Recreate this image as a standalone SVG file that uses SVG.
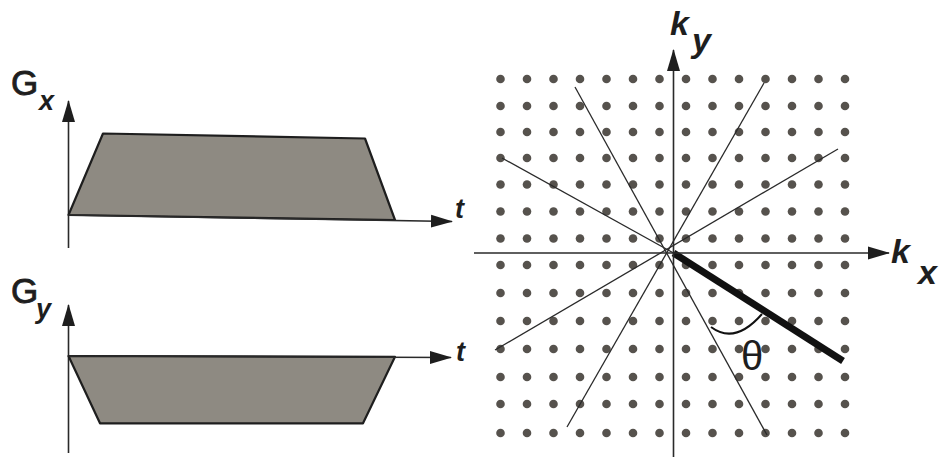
<svg xmlns="http://www.w3.org/2000/svg" width="939" height="457" viewBox="0 0 939 457">
<style>
.ax{stroke:#2a2a2a;stroke-width:1.6;fill:none}
.trap{fill:#8e8a82;stroke:#1e1e1e;stroke-width:2.2;stroke-linejoin:round}
.ray{stroke:#2a2a2a;stroke-width:1.3;fill:none}
.G{font-family:"Liberation Sans",Arial,sans-serif;font-size:35px;fill:#1e1e1e;stroke:#1e1e1e;stroke-width:0.9}
.sub{font-family:"Liberation Sans",Arial,sans-serif;font-size:27px;font-style:italic;font-weight:bold;fill:#1e1e1e}
.k{font-family:"Liberation Sans",Arial,sans-serif;font-size:34px;font-style:italic;font-weight:bold;fill:#1e1e1e}
.th{font-family:"Liberation Sans",Arial,sans-serif;font-size:40px;fill:#1e1e1e}
#kspace-grid circle{fill:#56524d}
</style>
<defs>
<marker id="ah" markerWidth="22" markerHeight="14" refX="21" refY="7" orient="auto" markerUnits="userSpaceOnUse">
<path d="M0,0.5 L22,7 L0,13.5 Z" fill="#1e1e1e"/>
</marker>
</defs>
<rect width="939" height="457" fill="#ffffff"/>

<g id="gx-plot">
<line class="ax" x1="68.5" y1="248" x2="68.5" y2="101" marker-end="url(#ah)"/>
<polygon class="trap" points="68.5,215 103,133.5 365,138.5 395,220"/>
<line class="ax" x1="68.5" y1="215" x2="452" y2="221.5" marker-end="url(#ah)"/>
<text class="G" x="11" y="95">G</text>
<text class="sub" x="39" y="110">x</text>
<text class="sub" x="455" y="218">t</text>
</g>

<g id="gy-plot">
<line class="ax" x1="68.5" y1="453" x2="68.5" y2="305" marker-end="url(#ah)"/>
<polygon class="trap" points="68.5,356 395,356.8 363,423.3 100,423.3"/>
<line class="ax" x1="68.5" y1="356" x2="451" y2="357.5" marker-end="url(#ah)"/>
<text class="G" x="11" y="303">G</text>
<text class="sub" x="36" y="318">y</text>
<text class="sub" x="456" y="361">t</text>
</g>

<g id="kspace-grid">
<g id="row0"><circle cx="500.5" cy="79" r="4.3"/><circle cx="527" cy="79" r="4.3"/><circle cx="553.5" cy="79" r="4.3"/><circle cx="580" cy="79" r="4.3"/><circle cx="606.5" cy="79" r="4.3"/><circle cx="633" cy="79" r="4.3"/><circle cx="659.5" cy="79" r="4.3"/><circle cx="686" cy="79" r="4.3"/><circle cx="712.5" cy="79" r="4.3"/><circle cx="739" cy="79" r="4.3"/><circle cx="765.5" cy="79" r="4.3"/><circle cx="792" cy="79" r="4.3"/><circle cx="818.5" cy="79" r="4.3"/><circle cx="845" cy="79" r="4.3"/></g>
<g id="row1"><circle cx="500.5" cy="106" r="4.3"/><circle cx="527" cy="106" r="4.3"/><circle cx="553.5" cy="106" r="4.3"/><circle cx="580" cy="106" r="4.3"/><circle cx="606.5" cy="106" r="4.3"/><circle cx="633" cy="106" r="4.3"/><circle cx="659.5" cy="106" r="4.3"/><circle cx="686" cy="106" r="4.3"/><circle cx="712.5" cy="106" r="4.3"/><circle cx="739" cy="106" r="4.3"/><circle cx="765.5" cy="106" r="4.3"/><circle cx="792" cy="106" r="4.3"/><circle cx="818.5" cy="106" r="4.3"/><circle cx="845" cy="106" r="4.3"/></g>
<g id="row2"><circle cx="500.5" cy="132" r="4.3"/><circle cx="527" cy="132" r="4.3"/><circle cx="553.5" cy="132" r="4.3"/><circle cx="580" cy="132" r="4.3"/><circle cx="606.5" cy="132" r="4.3"/><circle cx="633" cy="132" r="4.3"/><circle cx="659.5" cy="132" r="4.3"/><circle cx="686" cy="132" r="4.3"/><circle cx="712.5" cy="132" r="4.3"/><circle cx="739" cy="132" r="4.3"/><circle cx="765.5" cy="132" r="4.3"/><circle cx="792" cy="132" r="4.3"/><circle cx="818.5" cy="132" r="4.3"/><circle cx="845" cy="132" r="4.3"/></g>
<g id="row3"><circle cx="500.5" cy="158" r="4.3"/><circle cx="527" cy="158" r="4.3"/><circle cx="553.5" cy="158" r="4.3"/><circle cx="580" cy="158" r="4.3"/><circle cx="606.5" cy="158" r="4.3"/><circle cx="633" cy="158" r="4.3"/><circle cx="659.5" cy="158" r="4.3"/><circle cx="686" cy="158" r="4.3"/><circle cx="712.5" cy="158" r="4.3"/><circle cx="739" cy="158" r="4.3"/><circle cx="765.5" cy="158" r="4.3"/><circle cx="792" cy="158" r="4.3"/><circle cx="818.5" cy="158" r="4.3"/><circle cx="845" cy="158" r="4.3"/></g>
<g id="row4"><circle cx="500.5" cy="184.5" r="4.3"/><circle cx="527" cy="184.5" r="4.3"/><circle cx="553.5" cy="184.5" r="4.3"/><circle cx="580" cy="184.5" r="4.3"/><circle cx="606.5" cy="184.5" r="4.3"/><circle cx="633" cy="184.5" r="4.3"/><circle cx="659.5" cy="184.5" r="4.3"/><circle cx="686" cy="184.5" r="4.3"/><circle cx="712.5" cy="184.5" r="4.3"/><circle cx="739" cy="184.5" r="4.3"/><circle cx="765.5" cy="184.5" r="4.3"/><circle cx="792" cy="184.5" r="4.3"/><circle cx="818.5" cy="184.5" r="4.3"/><circle cx="845" cy="184.5" r="4.3"/></g>
<g id="row5"><circle cx="500.5" cy="211.5" r="4.3"/><circle cx="527" cy="211.5" r="4.3"/><circle cx="553.5" cy="211.5" r="4.3"/><circle cx="580" cy="211.5" r="4.3"/><circle cx="606.5" cy="211.5" r="4.3"/><circle cx="633" cy="211.5" r="4.3"/><circle cx="659.5" cy="211.5" r="4.3"/><circle cx="686" cy="211.5" r="4.3"/><circle cx="712.5" cy="211.5" r="4.3"/><circle cx="739" cy="211.5" r="4.3"/><circle cx="765.5" cy="211.5" r="4.3"/><circle cx="792" cy="211.5" r="4.3"/><circle cx="818.5" cy="211.5" r="4.3"/><circle cx="845" cy="211.5" r="4.3"/></g>
<g id="row6"><circle cx="500.5" cy="238.5" r="4.3"/><circle cx="527" cy="238.5" r="4.3"/><circle cx="553.5" cy="238.5" r="4.3"/><circle cx="580" cy="238.5" r="4.3"/><circle cx="606.5" cy="238.5" r="4.3"/><circle cx="633" cy="238.5" r="4.3"/><circle cx="659.5" cy="238.5" r="4.3"/><circle cx="686" cy="238.5" r="4.3"/><circle cx="712.5" cy="238.5" r="4.3"/><circle cx="739" cy="238.5" r="4.3"/><circle cx="765.5" cy="238.5" r="4.3"/><circle cx="792" cy="238.5" r="4.3"/><circle cx="818.5" cy="238.5" r="4.3"/><circle cx="845" cy="238.5" r="4.3"/></g>
<g id="row7"><circle cx="500.5" cy="265" r="4.3"/><circle cx="527" cy="265" r="4.3"/><circle cx="553.5" cy="265" r="4.3"/><circle cx="580" cy="265" r="4.3"/><circle cx="606.5" cy="265" r="4.3"/><circle cx="633" cy="265" r="4.3"/><circle cx="659.5" cy="265" r="4.3"/><circle cx="686" cy="265" r="4.3"/><circle cx="712.5" cy="265" r="4.3"/><circle cx="739" cy="265" r="4.3"/><circle cx="765.5" cy="265" r="4.3"/><circle cx="792" cy="265" r="4.3"/><circle cx="818.5" cy="265" r="4.3"/><circle cx="845" cy="265" r="4.3"/></g>
<g id="row8"><circle cx="500.5" cy="293" r="4.3"/><circle cx="527" cy="293" r="4.3"/><circle cx="553.5" cy="293" r="4.3"/><circle cx="580" cy="293" r="4.3"/><circle cx="606.5" cy="293" r="4.3"/><circle cx="633" cy="293" r="4.3"/><circle cx="659.5" cy="293" r="4.3"/><circle cx="686" cy="293" r="4.3"/><circle cx="712.5" cy="293" r="4.3"/><circle cx="739" cy="293" r="4.3"/><circle cx="765.5" cy="293" r="4.3"/><circle cx="792" cy="293" r="4.3"/><circle cx="818.5" cy="293" r="4.3"/><circle cx="845" cy="293" r="4.3"/></g>
<g id="row9"><circle cx="500.5" cy="321" r="4.3"/><circle cx="527" cy="321" r="4.3"/><circle cx="553.5" cy="321" r="4.3"/><circle cx="580" cy="321" r="4.3"/><circle cx="606.5" cy="321" r="4.3"/><circle cx="633" cy="321" r="4.3"/><circle cx="659.5" cy="321" r="4.3"/><circle cx="686" cy="321" r="4.3"/><circle cx="712.5" cy="321" r="4.3"/><circle cx="739" cy="321" r="4.3"/><circle cx="765.5" cy="321" r="4.3"/><circle cx="792" cy="321" r="4.3"/><circle cx="818.5" cy="321" r="4.3"/><circle cx="845" cy="321" r="4.3"/></g>
<g id="row10"><circle cx="500.5" cy="349" r="4.3"/><circle cx="527" cy="349" r="4.3"/><circle cx="553.5" cy="349" r="4.3"/><circle cx="580" cy="349" r="4.3"/><circle cx="606.5" cy="349" r="4.3"/><circle cx="633" cy="349" r="4.3"/><circle cx="659.5" cy="349" r="4.3"/><circle cx="686" cy="349" r="4.3"/><circle cx="712.5" cy="349" r="4.3"/><circle cx="739" cy="349" r="4.3"/><circle cx="765.5" cy="349" r="4.3"/><circle cx="792" cy="349" r="4.3"/><circle cx="818.5" cy="349" r="4.3"/><circle cx="845" cy="349" r="4.3"/></g>
<g id="row11"><circle cx="500.5" cy="377" r="4.3"/><circle cx="527" cy="377" r="4.3"/><circle cx="553.5" cy="377" r="4.3"/><circle cx="580" cy="377" r="4.3"/><circle cx="606.5" cy="377" r="4.3"/><circle cx="633" cy="377" r="4.3"/><circle cx="659.5" cy="377" r="4.3"/><circle cx="686" cy="377" r="4.3"/><circle cx="712.5" cy="377" r="4.3"/><circle cx="739" cy="377" r="4.3"/><circle cx="765.5" cy="377" r="4.3"/><circle cx="792" cy="377" r="4.3"/><circle cx="818.5" cy="377" r="4.3"/><circle cx="845" cy="377" r="4.3"/></g>
<g id="row12"><circle cx="500.5" cy="404" r="4.3"/><circle cx="527" cy="404" r="4.3"/><circle cx="553.5" cy="404" r="4.3"/><circle cx="580" cy="404" r="4.3"/><circle cx="606.5" cy="404" r="4.3"/><circle cx="633" cy="404" r="4.3"/><circle cx="659.5" cy="404" r="4.3"/><circle cx="686" cy="404" r="4.3"/><circle cx="712.5" cy="404" r="4.3"/><circle cx="739" cy="404" r="4.3"/><circle cx="765.5" cy="404" r="4.3"/><circle cx="792" cy="404" r="4.3"/><circle cx="818.5" cy="404" r="4.3"/><circle cx="845" cy="404" r="4.3"/></g>
<g id="row13"><circle cx="500.5" cy="433" r="4.3"/><circle cx="527" cy="433" r="4.3"/><circle cx="553.5" cy="433" r="4.3"/><circle cx="580" cy="433" r="4.3"/><circle cx="606.5" cy="433" r="4.3"/><circle cx="633" cy="433" r="4.3"/><circle cx="659.5" cy="433" r="4.3"/><circle cx="686" cy="433" r="4.3"/><circle cx="712.5" cy="433" r="4.3"/><circle cx="739" cy="433" r="4.3"/><circle cx="765.5" cy="433" r="4.3"/><circle cx="792" cy="433" r="4.3"/><circle cx="818.5" cy="433" r="4.3"/><circle cx="845" cy="433" r="4.3"/></g>
</g>

<g id="connectors">
<line class="ray" x1="575" y1="87" x2="767" y2="435"/>
<line class="ray" x1="764" y1="83" x2="567" y2="427"/>
<line class="ray" x1="838" y1="149" x2="495" y2="350"/>
<line class="ray" x1="502" y1="158" x2="673.5" y2="253"/>
<line x1="673.5" y1="253" x2="843" y2="361" stroke="#111" stroke-width="7" stroke-linecap="butt"/>
<line class="ax" x1="673.5" y1="457" x2="673.5" y2="50" marker-end="url(#ah)"/>
<line class="ax" x1="474" y1="253" x2="889" y2="253" marker-end="url(#ah)"/>
<path d="M711,327 Q735,345 762,314" fill="none" stroke="#111" stroke-width="2"/>
</g>

<g id="labels">
<text class="k" x="670" y="35">k</text>
<text class="k" x="692" y="52">y</text>
<text class="k" x="891" y="263">k</text>
<text class="k" x="918" y="284">x</text>
<text class="th" x="741" y="370">θ</text>
</g>
</svg>
